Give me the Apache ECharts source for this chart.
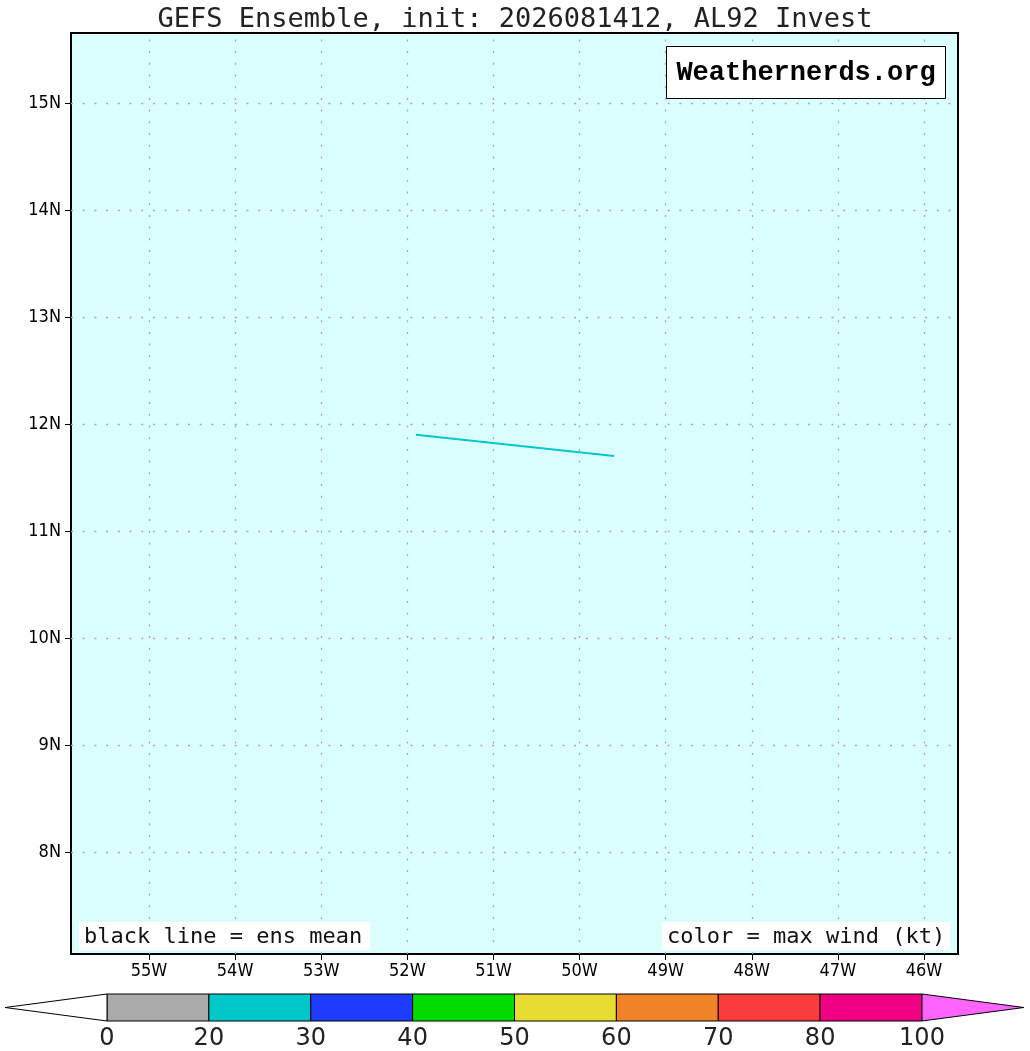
<!DOCTYPE html>
<html>
<head>
<meta charset="utf-8">
<script src="https://cdn.jsdelivr.net/npm/echarts@6/dist/echarts.min.js"></script>
<style>
html,body{margin:0;padding:0;background:#fff;}
#c{width:1030px;height:1051px;}
</style>
</head>
<body>
<div id="c"></div>
<script>
// ---- data ----
var titleText = 'GEFS Ensemble, init: 2026081412, AL92 Invest';
var trackLon = [-51.9, -49.6];
var trackLat = [11.9, 11.7];
var trackColor = '#00c8c8';
var lonTicks = [-55, -54, -53, -52, -51, -50, -49, -48, -47, -46];
var latTicks = [8, 9, 10, 11, 12, 13, 14, 15];
var lonRange = [-55.906, -45.605];
var latRange = [7.047, 15.654];
var cbLabels = ['0', '20', '30', '40', '50', '60', '70', '80', '100'];
var cbColors = ['#aaaaaa', '#00c8c8', '#1e3cff', '#00dc00', '#e6dc32', '#f08228', '#fa3c3c', '#f00082'];
var cbLowColor = '#ffffff';
var cbHighColor = '#ff64ff';

var axisFont = '"DejaVu Sans Condensed", "Liberation Sans Narrow", "DejaVu Sans", sans-serif';
var wideFont = '"DejaVu Sans Mono", monospace';

var chart = echarts.init(document.getElementById('c'), null, {renderer: 'canvas'});

var trackData = trackLon.map(function (v, i) { return [v, trackLat[i]]; });
var gridLines = [];
lonTicks.forEach(function (v) { gridLines.push({xAxis: v}); });
latTicks.forEach(function (v) { gridLines.push({yAxis: v}); });

var cbData = cbColors.map(function (c, i) { return [i, c]; });
cbData.push([-1, cbLowColor, 'low']);
cbData.push([cbColors.length, cbHighColor, 'high']);

var option = {
  animation: false,
  backgroundColor: '#ffffff',
  title: {
    text: titleText,
    left: 'center',
    top: 1,
    textStyle: {fontFamily: wideFont, fontSize: 27, fontWeight: 'normal', color: '#222'}
  },
  grid: [
    {left: 71, right: 72, top: 33, bottom: 97, show: true, backgroundColor: '#dbffff', borderColor: '#000', borderWidth: 2, z: 0},
    {left: 107, width: 815, top: 994, height: 27, show: false}
  ],
  xAxis: [
    {
      gridIndex: 0, type: 'value', min: lonRange[0], max: lonRange[1],
      axisLine: {show: false},
      splitLine: {show: false},
      axisTick: {show: true, inside: false, length: 6, customValues: lonTicks, lineStyle: {color: '#000', width: 1}},
      axisLabel: {
        customValues: lonTicks, margin: 8, color: '#000',
        fontFamily: axisFont, fontSize: 18,
        formatter: function (v) { return Math.round(Math.abs(v)) + 'W'; }
      }
    },
    {
      gridIndex: 1, type: 'value', min: 0, max: 8, interval: 1,
      axisLine: {show: false}, axisTick: {show: false}, splitLine: {show: false},
      axisLabel: {
        margin: 6, color: '#222', fontFamily: '"DejaVu Sans", sans-serif', fontSize: 24,
        showMinLabel: true, showMaxLabel: true,
        formatter: function (v) { return cbLabels[Math.round(v)]; }
      }
    }
  ],
  yAxis: [
    {
      gridIndex: 0, type: 'value', min: latRange[0], max: latRange[1],
      axisLine: {show: false},
      splitLine: {show: false},
      axisTick: {show: true, inside: false, length: 6, customValues: latTicks, lineStyle: {color: '#000', width: 1}},
      axisLabel: {
        customValues: latTicks, margin: 10, color: '#000',
        fontFamily: axisFont, fontSize: 18,
        formatter: function (v) { return Math.round(v) + 'N'; }
      }
    },
    {gridIndex: 1, type: 'value', min: 0, max: 1, show: false}
  ],
  series: [
    {
      type: 'line', xAxisIndex: 0, yAxisIndex: 0, data: [], silent: true, z: 1,
      markLine: {
        silent: true, symbol: ['none', 'none'], animation: false,
        label: {show: false},
        lineStyle: {color: '#a8a8a8', width: 1.3, type: [2, 9.7]},
        data: gridLines
      }
    },
    {
      type: 'line', xAxisIndex: 0, yAxisIndex: 0, data: trackData, z: 3,
      symbol: 'none', lineStyle: {color: trackColor, width: 2}
    },
    {
      type: 'custom', xAxisIndex: 1, yAxisIndex: 1, data: cbData, clip: false, silent: true,
      renderItem: function (params, api) {
        var i = api.value(0);
        var kind = cbData[params.dataIndex][2];
        var color = cbData[params.dataIndex][1];
        var p00 = api.coord([i, 0]), p11 = api.coord([i + 1, 1]);
        if (kind === 'low') {
          var a = api.coord([i + 1, 0]), b = api.coord([i + 1, 1]), t = api.coord([i, 0.5]);
          return {type: 'polygon', shape: {points: [a, b, t]}, style: {fill: color, stroke: '#000', lineWidth: 1}};
        }
        if (kind === 'high') {
          var a2 = api.coord([i, 0]), b2 = api.coord([i, 1]), t2 = api.coord([i + 1, 0.5]);
          return {type: 'polygon', shape: {points: [a2, b2, t2]}, style: {fill: color, stroke: '#000', lineWidth: 1}};
        }
        return {
          type: 'rect',
          shape: {x: p00[0], y: p11[1], width: p11[0] - p00[0], height: p00[1] - p11[1]},
          style: {fill: color, stroke: '#000', lineWidth: 1}
        };
      }
    }
  ],
  graphic: [
    {
      type: 'rect', left: 666, top: 46, z: 10,
      shape: {width: 279, height: 52},
      style: {fill: '#fff', stroke: '#000', lineWidth: 1}
    },
    {
      type: 'text', x: 806, y: 73, z: 11,
      style: {
        text: 'Weathernerds.org', fill: '#000', align: 'center', verticalAlign: 'middle',
        font: 'bold 27px "Liberation Mono", "Courier New", monospace'
      }
    },
    {
      type: 'text', x: 79, y: 922, z: 11,
      style: {
        text: 'black line = ens mean', fill: '#111',
        font: '22px ' + wideFont,
        backgroundColor: '#fff', padding: [4, 5, 2, 5], width: 281, height: 22, lineHeight: 22
      }
    },
    {
      type: 'text', x: 662, y: 922, z: 11,
      style: {
        text: 'color = max wind (kt)', fill: '#111',
        font: '22px ' + wideFont, align: 'left',
        backgroundColor: '#fff', padding: [4, 5, 2, 5], width: 278, height: 22, lineHeight: 22
      }
    }
  ]
};
chart.setOption(option);
</script>
</body>
</html>
